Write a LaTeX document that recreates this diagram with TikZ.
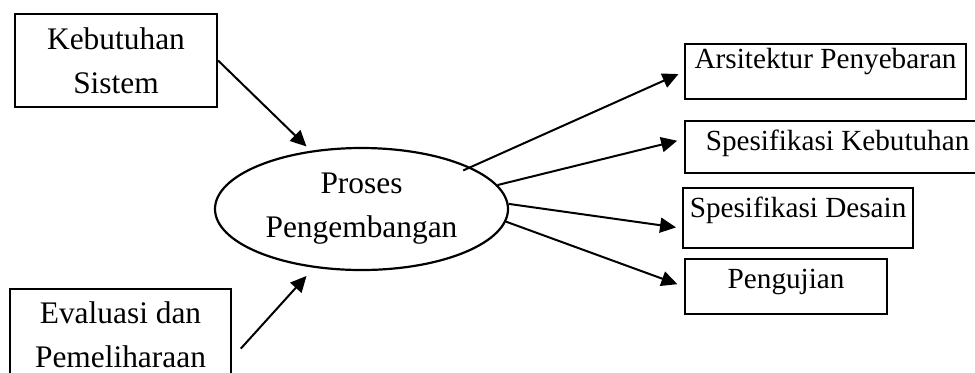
\documentclass[tikz,border=0pt]{standalone}
\usepackage{fontspec}
\setmainfont{Liberation Serif}
\usetikzlibrary{shapes.geometric,arrows.meta}
\tikzset{
  inbox/.style={draw, line width=1.1pt, inner sep=0pt, align=center, font=\fontsize{15.7}{22}\selectfont},
  outbox/.style={draw, line width=1.1pt, inner sep=0pt, anchor=north west, font=\fontsize{14.6}{18}\selectfont},
  flow/.style={-{Triangle[length=8pt,width=7.5pt]}, line width=1pt}
}
\begin{document}
\begin{tikzpicture}[x=0.5pt,y=-0.5pt]
\clip (0,0) rectangle (975,372);
\node[inbox, minimum width=101pt, minimum height=46.5pt] (kebutuhan) at (116,60.5) {Kebutuhan\\Sistem};
\node[inbox, minimum width=110.5pt, minimum height=45.5pt] (evaluasi) at (120.5,334.5) {Evaluasi dan\\Pemeliharaan};
\node[inbox, ellipse, minimum width=146.5pt, minimum height=61pt] (proses) at (361.5,209) {Proses\\Pengembangan};
\node[outbox, minimum width=140.5pt, text height=12.3pt, text depth=15.2pt] (arsitektur) at (684,43) {Arsitektur Penyebaran};
\node[outbox, minimum width=152.5pt, text height=14.7pt, text depth=11.3pt] (speckeb) at (684,120) {Spesifikasi Kebutuhan};
\node[outbox, minimum width=115pt, text height=14.5pt, text depth=15.5pt] (specdes) at (682,187) {Spesifikasi Desain};
\node[outbox, minimum width=101pt, text height=14.5pt, text depth=13pt] (pengujian) at (684,258) {Pengujian};
% masukan
\draw[flow, shorten >=3pt] (kebutuhan.east) -- (proses.131);
\draw[flow, shorten <=6.5pt, shorten >=5.5pt] (evaluasi.-12) -- (proses.231);
% keluaran
\draw[flow, shorten <=-4pt, shorten >=3pt] (proses.21) -- (arsitektur.west);
\draw[flow, shorten >=3.5pt] (proses.10) -- (speckeb.177);
\draw[flow, shorten >=3pt] (proses.2) -- (specdes.185);
\draw[flow, shorten >=3.5pt] (proses.-5) -- (pengujian.west);
\end{tikzpicture}
\end{document}
